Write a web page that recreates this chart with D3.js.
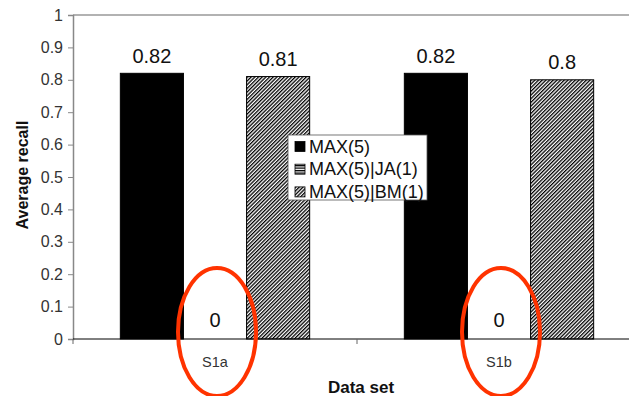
<!DOCTYPE html>
<html><head><meta charset="utf-8">
<script src="https://cdn.jsdelivr.net/npm/d3@7/dist/d3.min.js"></script>
<style>body{margin:0;background:#fff}svg{display:block;font-family:"Liberation Sans",Arial,sans-serif}</style>
</head><body><svg id="c" width="629" height="396"></svg>
<script>
const categories = ["S1a", "S1b"];
const seriesNames = ["MAX(5)", "MAX(5)|JA(1)", "MAX(5)|BM(1)"];
const valuesMAX = [0.82, 0.82];
const valuesJA = [0, 0];
const valuesBM = [0.81, 0.8];
const yTicks = [0, 0.1, 0.2, 0.3, 0.4, 0.5, 0.6, 0.7, 0.8, 0.9, 1];
const highlighted = ["S1a", "S1b"];

const seriesValues = [valuesMAX, valuesJA, valuesBM];
const svg = d3.select("#c");
const defs = svg.append("defs");
const hp = 2.6;
const hatch = defs.append("pattern").attr("id","hatch").attr("patternUnits","userSpaceOnUse")
  .attr("width",hp).attr("height",hp).attr("patternTransform","rotate(45)");
hatch.append("rect").attr("width",hp).attr("height",hp).attr("fill","#fff");
hatch.append("line").attr("x1",0.65).attr("y1",0).attr("x2",0.65).attr("y2",hp).attr("stroke","#000").attr("stroke-width",1.3);
const hstripe = defs.append("pattern").attr("id","hstripe").attr("patternUnits","userSpaceOnUse")
  .attr("width",4).attr("height",2.5);
hstripe.append("rect").attr("width",4).attr("height",2.5).attr("fill","#fff");
hstripe.append("rect").attr("width",4).attr("height",1.3).attr("fill","#000");
const fills = ["#000", "url(#hstripe)", "url(#hatch)"];

const x0 = 73, x1 = 641, yTop = 15, yBot = 339;
const x = d3.scaleBand().domain(categories).range([x0, x1]).paddingInner(1/3).paddingOuter(1/6);
const xs = d3.scaleBand().domain(seriesNames).range([0, x.bandwidth()]);
const y = d3.scaleLinear().domain([0, 1]).range([yBot, yTop]);

// top gridline
svg.append("line").attr("x1",x0).attr("x2",629).attr("y1",y(1)).attr("y2",y(1)).attr("stroke","#999").attr("stroke-width",1.5);

// bars
const g = svg.append("g");
categories.forEach((c, ci) => {
  seriesNames.forEach((s, si) => {
    const v = seriesValues[si][ci];
    const bx = x(c) + xs(s);
    if (v > 0) {
      g.append("rect").attr("x", bx).attr("y", y(v)).attr("width", xs.bandwidth()).attr("height", y(0) - y(v))
        .attr("fill", fills[si]).attr("stroke", "#000").attr("stroke-width", 1);
    }
    g.append("text").attr("x", bx + xs.bandwidth()/2).attr("y", y(v) - (v > 0 ? 10.5 : 11.7))
      .attr("text-anchor","middle").attr("font-size",20).attr("fill","#111").text(v === 0 ? "0" : String(v));
  });
});

// y axis
const yAxis = d3.axisLeft(y).tickValues(yTicks).tickSize(5).tickPadding(5).tickFormat(d => d3.format("")(+d.toFixed(1)));
const ya = svg.append("g").attr("transform", `translate(${x0},0)`).call(yAxis);
ya.select(".domain").attr("stroke","#888").attr("stroke-width",1.5);
ya.selectAll(".tick line").attr("stroke","#888");
ya.selectAll("text").attr("font-size",16).attr("fill","#333").attr("font-family","'Liberation Sans',Arial,sans-serif");

// x axis
svg.append("line").attr("x1",x0).attr("x2",629).attr("y1",yBot).attr("y2",yBot).attr("stroke","#000").attr("stroke-width",1);
const step = x.step();
[x0, x0 + step].forEach(t => svg.append("line").attr("x1",t).attr("x2",t).attr("y1",yBot).attr("y2",yBot+5).attr("stroke","#666"));
categories.forEach(c => {
  svg.append("text").attr("x", x(c) + x.bandwidth()/2).attr("y", 367).attr("text-anchor","middle")
    .attr("font-size",14.5).attr("fill","#333").text(c);
});

// axis titles
svg.append("text").attr("x", 361).attr("y", 393).attr("text-anchor","middle").attr("font-size",17).attr("font-weight","bold").attr("fill","#111").text("Data set");
svg.append("text").attr("transform","translate(28,175) rotate(-90)").attr("text-anchor","middle").attr("font-size",16).attr("font-weight","bold").attr("fill","#111").text("Average recall");

// legend
const lg = svg.append("g").attr("transform","translate(288,135)");
lg.append("rect").attr("width",139).attr("height",65).attr("fill","#fff").attr("stroke","#555").attr("stroke-width",0.8);
seriesNames.forEach((s, i) => {
  const base = 17.5 + i * 22.7;
  lg.append("rect").attr("x",7).attr("y",base - 11).attr("width",10).attr("height",10).attr("fill",fills[i]).attr("stroke","#000").attr("stroke-width",0.8);
  lg.append("text").attr("x",21).attr("y",base).attr("font-size",18).attr("fill","#111").text(s);
});

// red ellipses annotation
highlighted.forEach(c => {
  svg.append("ellipse").attr("cx", x(c) + x.bandwidth()/2 + 2).attr("cy", 332).attr("rx", 39).attr("ry", 64)
    .attr("fill","none").attr("stroke","#ff3300").attr("stroke-width",4);
});
</script></body></html>
